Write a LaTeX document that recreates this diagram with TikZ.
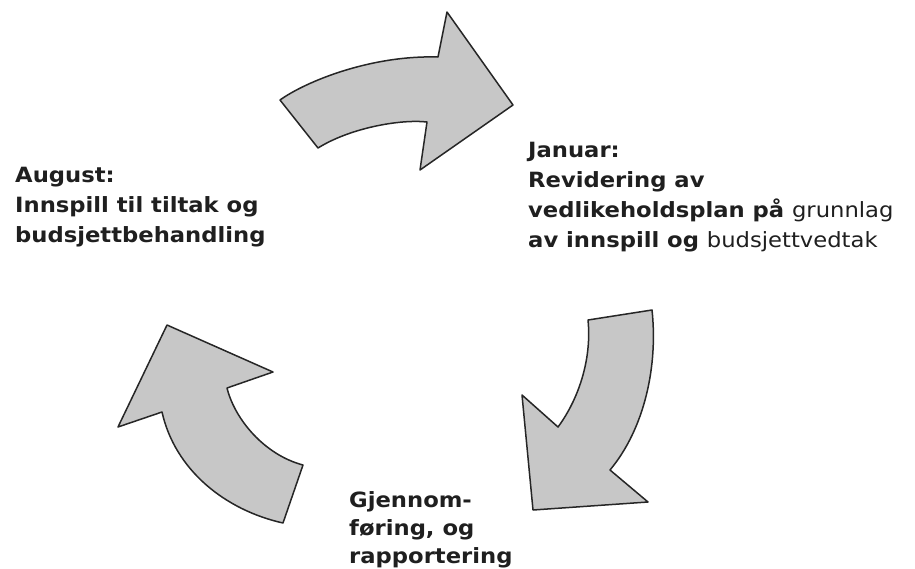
\documentclass[tikz,border=0pt]{standalone}
\usepackage{fontspec}
\setmainfont[FakeStretch=1.08]{DejaVu Sans}
\begin{document}
\begin{tikzpicture}[x=1pt,y=-1pt,
  cyclearrow/.style={fill=black!22, draw=black!85, line width=1.5pt, line join=round},
  label/.style={anchor=base west, inner sep=0pt, align=left, text=black!88,
    font=\fontsize{21}{30}\selectfont\bfseries}]
\useasboundingbox (0,0) rectangle (915,568);
% top arrow (August -> Januar)
\draw[cyclearrow] (280,100) .. controls (305,82) and (370,55) .. (438,57)
  -- (447,12) -- (513,105) -- (420,170) -- (427,122)
  .. controls (400,119) and (350,128) .. (318,148) -- cycle;
% right arrow (Januar -> Gjennomfoering)
\draw[cyclearrow] (588,320) -- (652,310)
  .. controls (658,365) and (645,428) .. (610,470)
  -- (648,502) -- (533,510) -- (522,395) -- (558,427)
  .. controls (578,400) and (592,360) .. (588,320) -- cycle;
% left arrow (Gjennomfoering -> August)
\draw[cyclearrow] (167,325) -- (273,372) -- (227,388)
  .. controls (235,420) and (265,455) .. (303,465)
  -- (283,523) .. controls (225,510) and (175,470) .. (162,412)
  -- (118,427) -- cycle;
% labels (base anchor = baseline of the last line)
\node[label] (aug) at (15,242) {August:\\Innspill til tiltak og\\budsjettbehandling};
\node[label] (jan) at (528,247) {Januar:\\Revidering av\\vedlikeholdsplan på {\mdseries grunnlag}\\av innspill og {\mdseries budsjettvedtak}};
\node[label, font=\fontsize{21}{28}\selectfont\bfseries] (gj) at (349,563) {Gjennom-\\føring, og\\rapportering};
\end{tikzpicture}
\end{document}
